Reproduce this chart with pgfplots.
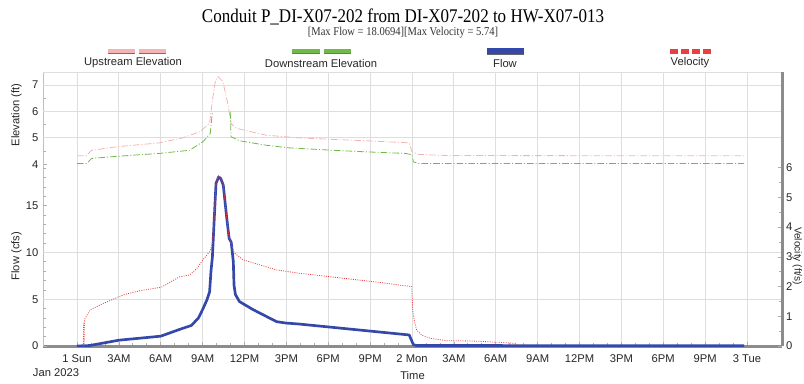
\documentclass[border=0pt]{standalone}
\usepackage{fontspec}
\setmainfont{Liberation Serif}
\setsansfont{Liberation Sans}
\usepackage{graphicx}
\usepackage{pgfplots}
\pgfplotsset{compat=1.18}

\definecolor{upc}{RGB}{244,180,180}
\definecolor{dnc}{RGB}{112,186,72}
\definecolor{flc}{RGB}{52,72,170}
\definecolor{vlc}{RGB}{232,64,64}
\definecolor{axc}{RGB}{140,140,140}
\definecolor{grc}{RGB}{222,222,222}

\newcommand{\axfont}{\sffamily\fontsize{8.4}{10}\selectfont}

\pgfplotsset{
  base/.style={
    scale only axis, width=554.25pt, height=205.5pt,
    at={(32.25pt,27.75pt)}, anchor=south west,
    xmin=-2.436, xmax=50.51,
    tick align=inside,
    major tick length=3pt, minor tick length=2pt,
    tick style={axc!70, line width=0.5pt},
    tick label style={font=\axfont, text=black!85},
    label style={font=\axfont, text=black!85},
    /pgf/number format/assume math mode=true,
    major grid style={grc, line width=0.6pt},
    unbounded coords=jump,
  },
}

\begin{document}
\begin{tikzpicture}
\path[use as bounding box] (0,0) rectangle (603pt,287.25pt);

% ---------- Elevation axis ----------
\begin{axis}[base,
  ymin=-2.875, ymax=7.49,
  axis x line*=bottom, axis y line*=left,
  x axis line style={line width=2.25pt, axc, -},
  y axis line style={line width=0.5pt, black!25, -},
  xtick={0,3,...,48},
  xticklabels={1 Sun,3AM,6AM,9AM,12PM,3PM,6PM,9PM,2 Mon,3AM,6AM,9AM,12PM,3PM,6PM,9PM,3 Tue},
  xticklabel style={yshift=-3pt},
  minor x tick num=2,
  xmajorgrids,
  ytick={4,5,6,7}, minor ytick={4.5,5.5,6.5},
  extra y ticks={5,6,7,7.49}, extra y tick labels={},
  extra y tick style={grid=major, major tick length=0pt},
  xlabel={Time},
  ylabel={Elevation (ft)},
  every axis y label/.style={at={(axis description cs:-0.036,0.843)}, anchor=center, rotate=90, font=\axfont, text=black!85},
]
\addplot[upc, line width=0.6pt, dash pattern=on 5pt off 1.5pt on 0.8pt off 1.5pt] coordinates {
(0,4.32) (0.66,4.32) (1.05,4.53) (2.83,4.66) (5.9,4.81) (7.6,5.0) (8.8,5.23) (9.5,5.55) (9.74,6.56) (9.9,7.1) (10.1,7.32) (10.45,7.13) (10.8,6.31) (11.04,5.55) (11.4,5.36) (13.55,5.1) (15.9,5.0) (18.3,4.94) (20.7,4.89) (23.8,4.81) (24.0,4.47) (24.5,4.37) (26.6,4.33) (47.8,4.32)
};
\addplot[dnc, line width=0.6pt, dash pattern=on 5pt off 1.5pt on 0.8pt off 1.5pt] coordinates {
(0,4.03) (0.7,4.03) (1.05,4.22) (2.83,4.3) (5.9,4.41) (8.07,4.53) (9.02,4.85) (9.55,5.17) (9.7,5.98) (10.3,nan) (10.98,5.98) (11.04,5.04) (11.64,4.89) (13.55,4.72) (15.2,4.62) (15.9,4.6) (18.3,4.53) (20.7,4.47) (23.55,4.41) (24.0,4.36) (24.1,4.09) (24.5,4.03) (47.8,4.03)
};
\end{axis}

% ---------- Flow axis ----------
\begin{axis}[base,
  ymin=0, ymax=29.29,
  axis x line=none, axis y line*=left,
  y axis line style={draw=none},
  xtick=\empty,
  ytick={0,5,10,15}, minor ytick={1,2,3,4,6,7,8,9,11,12,13,14,16,17,18,19},
  extra y ticks={5,10}, extra y tick labels={},
  extra y tick style={grid=major, major tick length=0pt},
  ylabel={Flow (cfs)},
  every axis y label/.style={at={(axis description cs:-0.036,0.328)}, anchor=center, rotate=90, font=\axfont, text=black!85},
]
\addplot[flc, line width=2pt, line join=round] coordinates {
(0,0) (0.9,0.05) (3,0.62) (6,1.05) (7.4,1.8) (8.2,2.2) (8.7,3.0) (9.0,3.9) (9.3,4.9) (9.5,5.8) (9.6,8.0) (9.7,9.5) (9.84,13.8) (9.96,17.4) (10.15,18.07) (10.3,17.9) (10.48,17.2) (10.72,13.8) (10.9,11.5) (11.05,11.1) (11.2,9.0) (11.25,6.5) (11.35,5.5) (11.64,4.75) (12.6,3.9) (14.3,2.6) (15.0,2.45) (15.9,2.35) (23.8,1.18) (24.1,0.15) (24.3,0.05) (47.8,0.03)
};
\end{axis}

% ---------- Velocity axis ----------
\begin{axis}[base,
  ymin=0, ymax=9.22,
  axis x line=none, axis y line*=right,
  y axis line style={line width=2.25pt, axc, -},
  xtick=\empty,
  ytick={0,1,...,6}, minor ytick={0.5,1.5,...,5.5},
  yticklabel style={xshift=-0.5pt},
  ylabel={Velocity (ft/s)},
  every axis y label/.style={at={(axis description cs:1.0205,0.328)}, anchor=center, rotate=-90, inner sep=0pt, font=\sffamily\fontsize{7.6}{9}\selectfont, text=black!85},
]
\addplot[vlc, line width=0.6pt, dash pattern=on 0.7pt off 1pt] coordinates {
(0.45,0) (0.47,0.78) (0.5,0.05) (0.55,0.9) (0.93,1.21) (1.64,1.38) (3.3,1.72) (4.5,1.86) (6.05,1.98) (7.36,2.33) (8.07,2.39) (8.57,2.6) (9.02,2.9) (9.5,3.17) (9.64,3.34) (9.7,3.45) (9.84,4.4) (9.96,5.5) (10.15,5.74) (10.3,5.65) (10.48,5.45) (10.72,4.35) (10.9,3.65) (11.05,3.5) (11.2,3.2) (11.3,3.12) (11.9,2.9) (13.1,2.73) (14.3,2.56) (15.9,2.45) (21.7,2.14) (23.1,2.05) (23.98,2.0) (24.05,1.21) (24.16,0.87) (24.33,0.54) (24.69,0.37) (25.3,0.26) (26.5,0.18) (28.2,0.17) (29.6,0.14) (31.4,0.09) (31.6,0)
};
\end{axis}

% ---------- Titles and legend ----------
\begin{scope}[x=0.75pt,y=-0.75pt,yshift=287.25pt]
\node[font=\fontsize{14.5}{16}\selectfont] at (403,17) {\scalebox{0.88}[1]{Conduit P\_DI-X07-202 from DI-X07-202 to HW-X07-013}};
\node[font=\fontsize{9}{10}\selectfont, text=black!80] at (403,33) {\scalebox{0.88}[1]{[Max Flow = 18.0694][Max Velocity = 5.74]}};
% legend markers
\fill[upc] (108,49) rectangle (135,53.5); \fill[upc] (139,49) rectangle (166,53.5);
\draw[black!55, line width=0.7pt] (108,53.8) -- (135,53.8) (139,53.8) -- (166,53.8);
\fill[dnc] (292,49) rectangle (320,53.5); \fill[dnc] (324,49) rectangle (351,53.5);
\draw[black!55, line width=0.7pt] (292,53.8) -- (320,53.8) (324,53.8) -- (351,53.8);
\fill[flc] (487,48) rectangle (524,54);
\draw[black!60, line width=0.7pt] (487,54.3) -- (524,54.3);
\foreach \s in {670,681,692,703} {\fill[vlc] (\s,49) rectangle (\s+8,53.5); \draw[black!55, line width=0.7pt] (\s,53.8) -- (\s+8,53.8);}
\begin{scope}[every node/.style={font=\axfont, text=black!85}]
\node at (133,63) {Upstream Elevation};
\node at (321,63) {Downstream Elevation};
\node at (505,63) {Flow};
\node at (690,63) {Velocity};
\node at (56,373) {Jan 2023};
\end{scope}
\end{scope}
\end{tikzpicture}
\end{document}
